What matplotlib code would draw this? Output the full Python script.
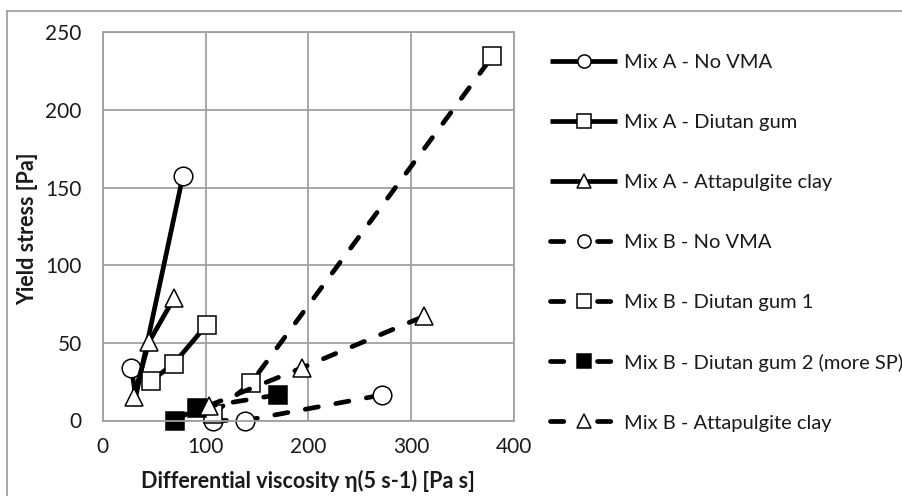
import matplotlib
matplotlib.use("Agg")
import matplotlib.pyplot as plt
from matplotlib.lines import Line2D

plt.rcParams['font.family'] = ['Lato', 'DejaVu Sans']

# ---- data ----
labels = ["Mix A - No VMA", "Mix A - Diutan gum", "Mix A - Attapulgite clay",
          "Mix B - No VMA", "Mix B - Diutan gum 1", "Mix B - Diutan gum 2 (more SP)",
          "Mix B - Attapulgite clay"]

a_novma_x = [28, 32, 78]
a_novma_y = [34, 15, 157.5]
a_diutan_x = [47, 69, 101]
a_diutan_y = [25.5, 36.5, 61.5]
a_atta_x = [30, 45, 69.5]
a_atta_y = [15, 50.5, 79]
b_novma_x = [107.5, 138.5, 272]
b_novma_y = [0, 0, 16.5]
b_diutan1_x = [107, 144, 379]
b_diutan1_y = [4, 24, 234.5]
b_diutan2_x = [70, 92, 170]
b_diutan2_y = [0, 8, 16.5]
b_atta_x = [103, 194, 312]
b_atta_y = [9.5, 34, 67]

xticks = [0, 100, 200, 300, 400]
yticks = [0, 50, 100, 150, 200, 250]

W, H = 902, 496
fig = plt.figure(figsize=(W / 100, H / 100), dpi=100)
ax = fig.add_axes([102.7 / W, (H - 420.5) / H, (514 - 102.7) / W, (420.5 - 32.3) / H])

lw = 3.4
dash = (2.82, 3.75)
ms = 13.4
mew = 1.1
txt = '#1a1a1a'
grid_c = '#a0a0a0'

common = dict(color='black', lw=lw, markersize=ms, markeredgewidth=mew,
              markeredgecolor='black', clip_on=False)

series = [
    (a_novma_x, a_novma_y, 'o', 'white', '-', [0, 2]),
    (a_diutan_x, a_diutan_y, 's', 'white', '-', None),
    (a_atta_x, a_atta_y, '^', 'white', '-', None),
    (b_novma_x, b_novma_y, 'o', 'white', '--', None),
    (b_diutan1_x, b_diutan1_y, 's', 'white', '--', None),
    (b_diutan2_x, b_diutan2_y, 's', 'black', '--', None),
    (b_atta_x, b_atta_y, '^', 'white', '--', None),
]

handles = []
for (xs, ys, mk, fc, ls, mev), lab in zip(series, labels):
    ln, = ax.plot(xs, ys, marker=mk, markerfacecolor=fc, markevery=mev,
                  linestyle='-', solid_capstyle='round', dash_capstyle='round',
                  **common)
    if ls == '--':
        ln.set_dashes(dash)
    h = Line2D([], [], color='black', lw=lw, marker=mk, markerfacecolor=fc,
               markeredgecolor='black', markeredgewidth=mew, markersize=9.5,
               solid_capstyle='butt', dash_capstyle='round')
    if ls == '--':
        h.set_dashes((2.82, 7.13))
    handles.append(h)

ax.set_xlim(0, 400)
ax.set_ylim(0, 250)
ax.set_xticks(xticks)
ax.set_yticks(yticks)
ax.grid(True, color=grid_c, lw=1.3)
ax.set_axisbelow(True)
for s in ax.spines.values():
    s.set_color(grid_c)
    s.set_linewidth(1.3)
ax.tick_params(length=0, labelsize=15, colors=txt)
ax.tick_params(axis='x', pad=12)
ax.tick_params(axis='y', pad=15)
ax.set_xlabel("Differential viscosity η(5 s-1) [Pa s]", fontsize=15.5, fontweight='bold',
              color=txt, va='center')
ax.set_ylabel("Yield stress [Pa]", fontsize=15.5, fontweight='bold', color=txt, va='center')
ax.xaxis.set_label_coords(0.5, (420.5 - 481.0) / (420.5 - 32.3))
ax.yaxis.set_label_coords((28 - 102.7) / (514 - 102.7), 0.495)

fig.legend(handles, labels, loc='upper left', bbox_to_anchor=(550 / W, 1 - 53.5 / H),
           bbox_transform=fig.transFigure, frameon=False, borderpad=0, borderaxespad=0,
           fontsize=14.5, handlelength=3.33, handletextpad=0.35, labelspacing=2.13,
           labelcolor=txt)

# outer chart border (top and left visible)
fig.add_artist(Line2D([7.5 / W, 1], [1 - 11 / H, 1 - 11 / H], color=grid_c, lw=1.3,
                      transform=fig.transFigure))
fig.add_artist(Line2D([7.5 / W, 7.5 / W], [0, 1 - 11 / H], color=grid_c, lw=1.3,
                      transform=fig.transFigure))

fig.savefig("out.png", dpi=100)
